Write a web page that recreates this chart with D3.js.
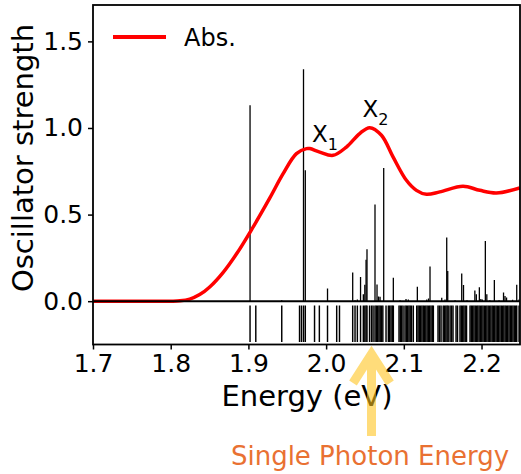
<!DOCTYPE html>
<html>
<head>
<meta charset="utf-8">
<script src="https://cdn.jsdelivr.net/npm/d3@7"></script>
<style>
  body { margin: 0; background: #fff; }
  svg { display: block; }
  text { font-family: "DejaVu Sans", sans-serif; }
</style>
</head>
<body>
<div id="chart-area"></div>
<script>
// every transition energy (eV), shown as the bar code under zero
const levels = [1.9021, 1.9095, 1.9429, 1.9658, 1.9683, 1.9709, 1.9732, 1.9851, 1.9913, 2.0018,
  2.0136, 2.0172, 2.0342, 2.0372, 2.0402, 2.0443, 2.0479, 2.0498, 2.0514, 2.0526,
  2.0559, 2.0584, 2.0604, 2.0629, 2.0646, 2.0663, 2.0680, 2.0696, 2.0713, 2.0730,
  2.0771, 2.0801, 2.0817, 2.0835, 2.0852, 2.0865, 2.0938, 2.0955, 2.0972, 2.0990,
  2.1015, 2.1032, 2.1049, 2.1066, 2.1082, 2.1099, 2.1122, 2.1166, 2.1183, 2.1199,
  2.1216, 2.1233, 2.1250, 2.1266, 2.1283, 2.1300, 2.1317, 2.1333, 2.1350, 2.1367,
  2.1380, 2.1440, 2.1459, 2.1479, 2.1507, 2.1524, 2.1541, 2.1557, 2.1571, 2.1595,
  2.1614, 2.1633, 2.1672, 2.1691, 2.1723, 2.1740, 2.1757, 2.1773, 2.1790, 2.1807,
  2.1852, 2.1869, 2.1885, 2.1902, 2.1919, 2.1936, 2.1952, 2.1969, 2.1986, 2.2003,
  2.2019, 2.2036, 2.2053, 2.2069, 2.2086, 2.2103, 2.2120, 2.2137, 2.2153, 2.2170,
  2.2187, 2.2203, 2.2220, 2.2237, 2.2254, 2.2271, 2.2287, 2.2304, 2.2320, 2.2337,
  2.2354, 2.2371, 2.2387, 2.2404, 2.2421, 2.2438, 2.2453, 2.2483]

// transitions with a visible oscillator strength
const stickEnergy = [1.9021, 1.9429, 1.9709, 1.9732, 2.0018, 2.0342, 2.0372, 2.0402, 2.0443, 2.0479,
  2.0498, 2.0514, 2.0526, 2.0629, 2.0655, 2.0674, 2.0694, 2.0741, 2.0865, 2.0951,
  2.1028, 2.1058, 2.1174, 2.1295, 2.1318, 2.1337, 2.1488, 2.1530, 2.1552, 2.1565,
  2.1659, 2.1745, 2.1768, 2.1813, 2.1914, 2.1933, 2.1972, 2.1991, 2.2010, 2.2049,
  2.2068, 2.2107, 2.2165, 2.2225, 2.2283, 2.2302, 2.2322, 2.2399, 2.2453, 2.2483]
const stickStrength = [1.131, 0.006, 1.339, 0.756, 0.073, 0.165, 0.005, 0.01, 0.14, 0.04,
  0.095, 0.24, 0.30, 0.558, 0.097, 0.027, 0.025, 0.769, 0.135, 0.005,
  0.012, 0.01, 0.083, 0.01, 0.015, 0.2, 0.02, 0.01, 0.368, 0.174,
  0.005, 0.16, 0.093, 0.005, 0.062, 0.04, 0.08, 0.013, 0.01, 0.348,
  0.04, 0.005, 0.122, 0.005, 0.05, 0.03, 0.022, 0.008, 0.095, 0.01]

// absorption curve
const absEnergy = [1.70, 1.7987, 1.812, 1.8245, 1.8373, 1.8502, 1.8673, 1.885, 1.903, 1.9274,
  1.9445, 1.9618, 1.9747, 1.9789, 1.9918, 2.0089, 2.0261, 2.0432, 2.0561, 2.0712,
  2.0861, 2.1033, 2.1162, 2.1291, 2.1462, 2.1762, 2.1977, 2.2192, 2.2491]
const absValue = [0, 0, 0.002, 0.012, 0.038, 0.082, 0.165, 0.275, 0.405, 0.595,
  0.735, 0.852, 0.881, 0.881, 0.861, 0.842, 0.89, 0.968, 1.002, 0.958,
  0.833, 0.698, 0.64, 0.617, 0.631, 0.664, 0.64, 0.625, 0.654]

const xTicks = [1.7, 1.8, 1.9, 2.0, 2.1, 2.2]
const yTicks = [0, 0.5, 1.0, 1.5]

const W = 521, H = 474
const LEFT = 93, RIGHT = 520, TOP = 5, BOTTOM = 344.5

const svg = d3.select("#chart-area").append("svg")
  .attr("width", W)
  .attr("height", H)

const x = d3.scaleLinear().domain([1.7, 2.2495]).range([LEFT, RIGHT])
const y = d3.scaleLinear().domain([-0.25, 1.71]).range([BOTTOM, TOP])

svg.append("clipPath").attr("id", "clip")
  .append("rect")
  .attr("x", LEFT).attr("y", TOP)
  .attr("width", RIGHT - LEFT).attr("height", BOTTOM - TOP)

const plot = svg.append("g").attr("clip-path", "url(#clip)")

// sticks, upper part
plot.selectAll(".stick")
  .data(stickEnergy.map((e, i) => ({ e: e, f: stickStrength[i] })))
  .enter().append("line")
  .attr("class", "stick")
  .attr("x1", d => x(d.e)).attr("x2", d => x(d.e))
  .attr("y1", y(0)).attr("y2", d => y(d.f))
  .attr("stroke", "#000")
  .attr("stroke-width", 1.3)

// lower bar code
plot.selectAll(".level")
  .data(levels)
  .enter().append("line")
  .attr("class", "level")
  .attr("x1", d => x(d)).attr("x2", d => x(d))
  .attr("y1", y(-0.025)).attr("y2", y(-0.235))
  .attr("stroke", "#000")
  .attr("stroke-width", 1.45)

// zero line
svg.append("line")
  .attr("x1", LEFT).attr("x2", RIGHT)
  .attr("y1", y(0)).attr("y2", y(0))
  .attr("stroke", "#000")
  .attr("stroke-width", 2)

// absorption
const line = d3.line()
  .x(d => x(d[0]))
  .y(d => y(d[1]))
  .curve(d3.curveCatmullRom)

plot.append("path")
  .datum(absEnergy.map((e, i) => [e, absValue[i]]))
  .attr("d", line)
  .attr("fill", "none")
  .attr("stroke", "#ff0000")
  .attr("stroke-width", 3.5)

// frame
svg.append("rect")
  .attr("x", LEFT).attr("y", TOP)
  .attr("width", RIGHT - LEFT).attr("height", BOTTOM - TOP)
  .attr("fill", "none")
  .attr("stroke", "#000")
  .attr("stroke-width", 1.8)

// axes
const xAxis = svg.append("g")
  .attr("transform", `translate(0, ${BOTTOM})`)
  .call(d3.axisBottom(x).tickValues(xTicks).tickFormat(d3.format(".1f")).tickSize(5).tickPadding(5))
xAxis.select(".domain").remove()
xAxis.selectAll("line").attr("stroke-width", 1.5)
xAxis.selectAll("text").attr("font-size", "25px").attr("font-family", "DejaVu Sans").attr("fill", "#000")

const yAxis = svg.append("g")
  .attr("transform", `translate(${LEFT}, 0)`)
  .call(d3.axisLeft(y).tickValues(yTicks).tickFormat(d3.format(".1f")).tickSize(5).tickPadding(5))
yAxis.select(".domain").remove()
yAxis.selectAll("line").attr("stroke-width", 1.5)
yAxis.selectAll("text").attr("font-size", "25px").attr("font-family", "DejaVu Sans").attr("fill", "#000")

// axis labels
svg.append("text")
  .attr("x", 307).attr("y", 406)
  .attr("text-anchor", "middle")
  .attr("font-size", "29px")
  .text("Energy (eV)")

svg.append("text")
  .attr("transform", "translate(33, 158) rotate(-90)")
  .attr("text-anchor", "middle")
  .attr("font-size", "29px")
  .text("Oscillator strength")

// legend
svg.append("line")
  .attr("x1", 113).attr("x2", 166)
  .attr("y1", 37).attr("y2", 37)
  .attr("stroke", "#ff0000")
  .attr("stroke-width", 4)
svg.append("text")
  .attr("x", 184).attr("y", 46)
  .attr("font-size", "24px")
  .text("Abs.")

// peak labels
function peakLabel(px, py, sub) {
  const t = svg.append("text").attr("x", px).attr("y", py).attr("font-size", "23px")
  t.append("tspan").text("X")
  t.append("tspan").attr("font-size", "16px").attr("dy", 8).text(sub)
}
peakLabel(312, 141.5, "1")
peakLabel(362.5, 117, "2")

// single photon arrow
const arrow = svg.append("g").attr("opacity", 0.58)
arrow.append("path")
  .attr("d", "M371.5,436 L371.5,356 M353,383 L371.5,354 L390,383")
  .attr("fill", "none")
  .attr("stroke", "#ffc21a")
  .attr("stroke-width", 9)
  .attr("stroke-linejoin", "miter")

svg.append("text")
  .attr("x", 370).attr("y", 465)
  .attr("text-anchor", "middle")
  .attr("font-family", "Open Sans")
  .attr("font-size", "26px")
  .attr("fill", "#e97132")
  .text("Single Photon Energy")
</script>
</body>
</html>
